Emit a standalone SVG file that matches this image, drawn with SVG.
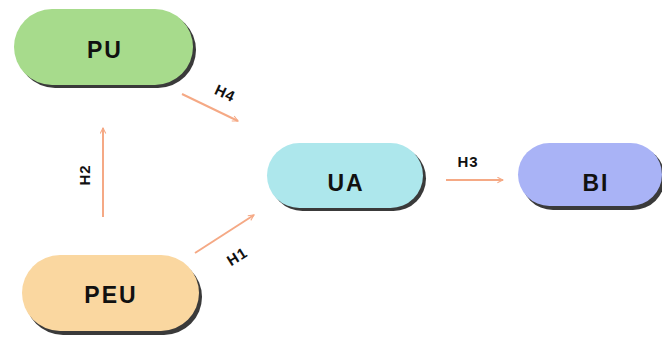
<svg xmlns="http://www.w3.org/2000/svg" width="662" height="339" viewBox="0 0 662 339">
<defs>
<marker id="ah" viewBox="0 0 10 10" refX="9" refY="5" markerWidth="7" markerHeight="7" markerUnits="userSpaceOnUse" orient="auto">
<path d="M1,1 L9,5 L1,9" fill="none" stroke="#f5a985" stroke-width="1.5"/>
</marker>
</defs>
<style>
.shadow{fill:#3a3a3a}
.lbl{font-family:"Liberation Sans",Arial,sans-serif;font-weight:bold;font-size:23px;fill:#111;text-anchor:middle;letter-spacing:2px}
.el{font-family:"Liberation Sans",Arial,sans-serif;font-weight:bold;font-size:15px;fill:#111;text-anchor:middle;letter-spacing:1px}
.edge{stroke:#f5a985;stroke-width:2;fill:none;marker-end:url(#ah)}
</style>
<rect width="662" height="339" fill="#ffffff"/>
<g id="PU">
<rect class="shadow" x="17" y="12" width="179" height="76" rx="38"/>
<rect x="14" y="9" width="179" height="76" rx="38" fill="#a7db8c"/>
<text class="lbl" x="105" y="58">PU</text>
</g>
<g id="PEU">
<rect class="shadow" x="25" y="259" width="177" height="76" rx="38"/>
<rect x="22" y="255" width="177" height="76" rx="38" fill="#fad7a0"/>
<text class="lbl" x="111" y="303">PEU</text>
</g>
<g id="UA">
<rect class="shadow" x="270" y="146" width="156" height="65" rx="32.5"/>
<rect x="267" y="143" width="156" height="65" rx="32.5" fill="#ade7ec"/>
<text class="lbl" x="346" y="191">UA</text>
</g>
<g id="BI">
<rect class="shadow" x="521" y="146" width="144" height="64" rx="32"/>
<rect x="518" y="143" width="144" height="63" rx="31.5" fill="#a9b3f6"/>
<text class="lbl" x="596" y="191">BI</text>
</g>
<g id="connectors">
<line class="edge" x1="103" y1="217" x2="103" y2="128"/>
<line class="edge" x1="182" y1="94" x2="238" y2="121"/>
<line class="edge" x1="195" y1="253" x2="254" y2="215"/>
<line class="edge" x1="446" y1="180" x2="503" y2="180"/>
<text class="el" transform="translate(90,175) rotate(-90)">H2</text>
<text class="el" transform="translate(223,98) rotate(25)">H4</text>
<text class="el" transform="translate(240,261) rotate(-32)">H1</text>
<text class="el" x="468" y="167">H3</text>
</g>
</svg>
